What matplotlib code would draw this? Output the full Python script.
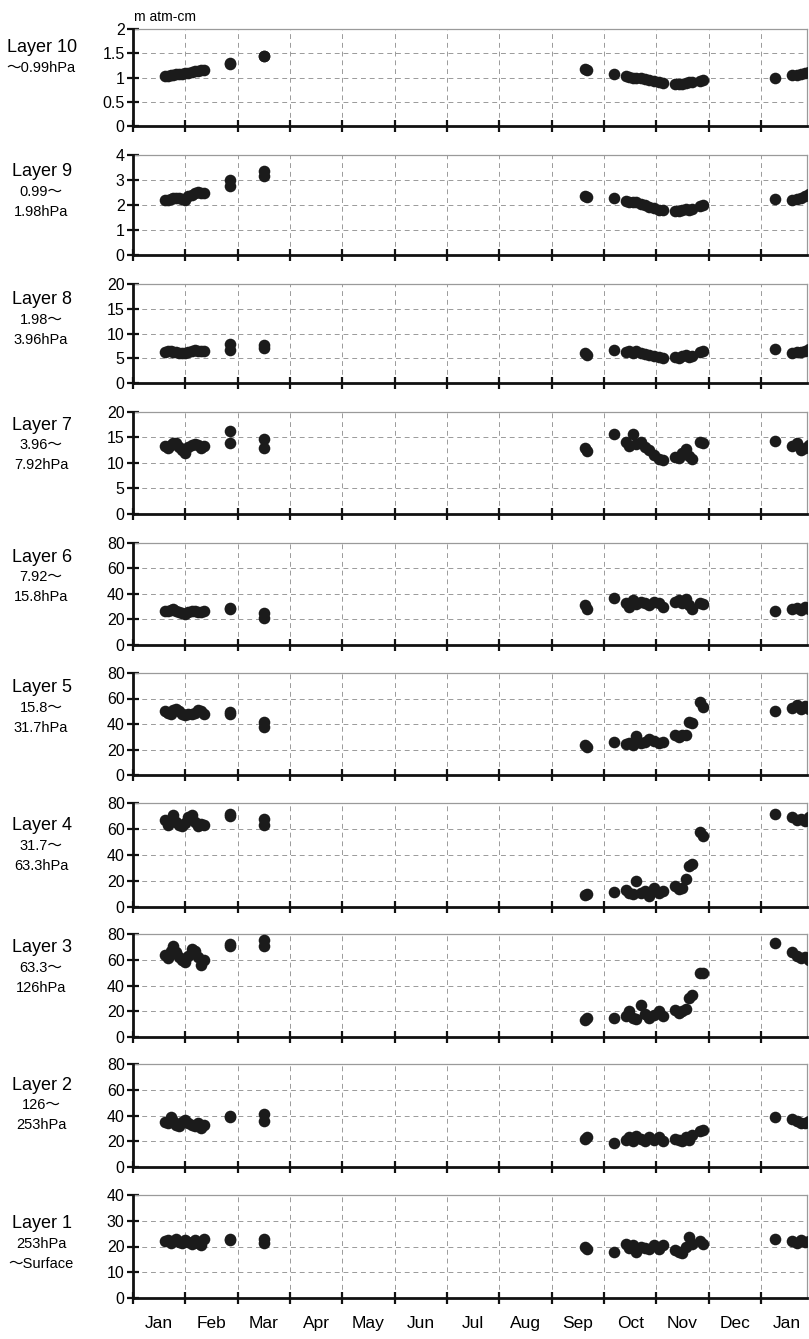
import numpy as np
import matplotlib
matplotlib.use("Agg")
import matplotlib.pyplot as plt
from matplotlib import font_manager

# ---- observation dates (month units, 0 = 1 Jan) ----
dates = [0.62, 0.67, 0.72, 0.77, 0.82, 0.88, 0.94, 1.00, 1.06, 1.12, 1.18, 1.24, 1.30, 1.36,
         1.85, 1.85,
         2.50, 2.50,
         8.64, 8.68, 9.20, 9.42, 9.47, 9.55, 9.62, 9.70, 9.78, 9.87, 9.95, 10.05, 10.12,
         10.36, 10.43, 10.50, 10.57, 10.63, 10.68, 10.84, 10.90,
         12.27, 12.60, 12.68, 12.76, 12.84, 12.92]

# ---- ozone amount per layer (m atm-cm) ----
layer10 = [1.03, 1.04, 1.05, 1.06, 1.07, 1.07, 1.08, 1.09, 1.10, 1.11, 1.13, 1.14, 1.15, 1.16,
           1.29, 1.28, 1.45, 1.44,
           1.17, 1.15, 1.08, 1.03, 1.01, 1.00, 0.99, 0.98, 0.96, 0.95, 0.93, 0.91, 0.89,
           0.86, 0.86, 0.87, 0.88, 0.90, 0.91, 0.93, 0.94,
           1.00, 1.05, 1.06, 1.07, 1.09, 1.12]
layer9 = [2.20, 2.22, 2.25, 2.27, 2.30, 2.28, 2.25, 2.22, 2.35, 2.42, 2.48, 2.52, 2.50, 2.48,
          3.00, 2.75, 3.35, 3.15,
          2.35, 2.32, 2.28, 2.15, 2.13, 2.14, 2.12, 2.05, 2.00, 1.92, 1.88, 1.82, 1.80,
          1.77, 1.78, 1.82, 1.83, 1.80, 1.85, 1.98, 2.02,
          2.24, 2.22, 2.25, 2.30, 2.36, 2.44]
layer8 = [6.2, 6.4, 6.5, 6.3, 6.3, 6.1, 6.0, 6.0, 6.3, 6.5, 6.6, 6.5, 6.4, 6.5,
          7.8, 6.6, 7.6, 7.0,
          6.0, 5.6, 6.6, 6.2, 6.4, 6.0, 6.5, 6.1, 5.9, 5.6, 5.5, 5.2, 5.0,
          5.2, 5.1, 5.4, 5.6, 5.3, 5.5, 6.2, 6.4,
          6.8, 6.1, 6.2, 6.3, 6.5, 6.8]
layer7 = [13.3, 13.0, 13.6, 13.9, 14.0, 13.2, 12.6, 12.0, 13.2, 13.5, 13.8, 13.6, 13.0, 13.3,
          16.3, 14.0, 14.8, 13.0,
          12.9, 12.4, 15.7, 14.2, 13.3, 15.7, 13.7, 14.2, 13.1, 12.5, 11.6, 10.8, 10.6,
          11.2, 11.0, 12.0, 12.7, 11.3, 10.8, 14.2, 13.9,
          14.3, 13.3, 13.9, 12.5, 13.0, 13.5]
layer6 = [27.0, 26.5, 27.5, 28.0, 27.0, 26.0, 25.0, 24.5, 26.0, 26.5, 27.0, 26.0, 25.5, 27.0,
          29.0, 28.0, 25.0, 21.5,
          31.0, 28.5, 37.0, 33.0, 30.0, 35.0, 32.0, 34.0, 33.0, 31.0, 34.0, 33.0, 30.0,
          34.0, 35.0, 33.0, 36.0, 31.0, 28.0, 33.0, 32.0,
          27.0, 28.5, 29.0, 27.5, 30.0, 28.0]
layer5 = [50.0, 49.0, 48.0, 51.0, 52.0, 50.0, 48.0, 47.0, 48.0, 48.0, 49.0, 51.0, 50.0, 48.0,
          49.5, 48.0, 41.5, 38.0,
          23.5, 22.0, 26.0, 24.3, 25.0, 23.5, 30.6, 25.0, 26.0, 28.0, 27.0, 25.0, 26.0,
          31.4, 29.8, 31.0, 31.4, 41.8, 40.8, 57.5, 53.6,
          50.4, 52.8, 55.0, 51.8, 54.0, 52.0]
layer4 = [67.0, 63.0, 66.0, 71.0, 65.6, 63.0, 62.0, 65.0, 69.0, 71.0, 65.6, 62.5, 64.0, 63.0,
          70.0, 71.5, 67.7, 63.0,
          9.2, 10.0, 11.7, 13.0, 11.0, 10.0, 20.2, 10.7, 12.0, 8.5, 14.6, 11.0, 12.0,
          16.2, 13.8, 14.6, 21.5, 31.5, 33.0, 57.9, 55.0,
          71.5, 69.5, 67.0, 68.0, 66.0, 69.0]
layer3 = [64.0, 61.0, 67.0, 71.0, 66.0, 62.0, 60.0, 58.0, 63.0, 68.0, 67.0, 62.0, 56.0, 60.0,
          72.0, 71.0, 75.5, 70.5,
          13.5, 14.5, 15.0, 16.0, 20.0, 15.0, 14.0, 25.0, 18.0, 15.0, 17.0, 20.0, 16.0,
          21.0, 19.0, 20.0, 22.0, 30.0, 33.0, 50.0, 49.5,
          73.0, 66.0, 63.0, 61.0, 62.0, 60.0]
layer2 = [35.0, 34.0, 39.0, 36.0, 33.0, 31.5, 35.0, 36.5, 34.0, 33.0, 31.5, 34.0, 30.0, 33.0,
          39.5, 38.5, 41.0, 36.0,
          22.0, 23.0, 19.0, 21.0, 23.0, 20.0, 24.0, 22.0, 20.0, 23.0, 21.0, 23.0, 20.0,
          22.0, 21.0, 20.0, 23.0, 21.0, 25.0, 28.0, 29.0,
          39.0, 37.0, 36.0, 34.5, 34.0, 36.0]
layer1 = [22.0, 22.5, 21.5, 22.0, 23.0, 21.8, 21.5, 22.5, 21.8, 21.0, 22.5, 21.5, 20.5, 22.8,
          23.0, 22.5, 23.0, 21.5,
          20.0, 19.0, 18.0, 21.0, 19.5, 20.5, 18.0, 20.0, 19.5, 19.0, 20.5, 19.0, 20.5,
          18.5, 18.0, 17.5, 20.0, 23.5, 21.0, 22.0, 21.0,
          22.8, 22.0, 21.5, 22.5, 21.8, 22.0]

months = ["Jan", "Feb", "Mar", "Apr", "May", "Jun", "Jul", "Aug",
          "Sep", "Oct", "Nov", "Dec", "Jan"]

layer_names = [
    ["Layer 10", "～0.99hPa"],
    ["Layer 9", "0.99～", "1.98hPa"],
    ["Layer 8", "1.98～", "3.96hPa"],
    ["Layer 7", "3.96～", "7.92hPa"],
    ["Layer 6", "7.92～", "15.8hPa"],
    ["Layer 5", "15.8～", "31.7hPa"],
    ["Layer 4", "31.7～", "63.3hPa"],
    ["Layer 3", "63.3～", "126hPa"],
    ["Layer 2", "126～", "253hPa"],
    ["Layer 1", "253hPa", "～Surface"],
]
series = [layer10, layer9, layer8, layer7, layer6, layer5, layer4, layer3, layer2, layer1]
y_max = [2, 4, 20, 20, 80, 80, 80, 80, 80, 40]
y_step = [0.5, 1, 5, 5, 20, 20, 20, 20, 20, 10]

# ---- fonts ----
installed = {f.name for f in font_manager.fontManager.ttflist}
base = "Liberation Sans Narrow" if "Liberation Sans Narrow" in installed else "Liberation Sans"
plt.rcParams["font.family"] = [base, "Noto Sans CJK JP", "DejaVu Sans"]

W, H = 809, 1339
fig = plt.figure(figsize=(W / 100, H / 100), dpi=100)

# panel frame positions in pixels (top, bottom)
tops = [29, 155, 284, 412, 543, 673, 803, 934, 1064, 1195]
bottoms = [126, 255, 383, 514, 645, 775, 907, 1037, 1167, 1298]
label_y = [48, 172, 300, 425, 557, 688, 826, 948, 1085, 1224]
left_px, right_px = 133, 807
month_px = 52.33
x_max = (right_px - left_px) / month_px

x = np.array(dates)
for k in range(10):
    ax = fig.add_axes([left_px / W, 1 - bottoms[k] / H,
                       (right_px - left_px) / W, (bottoms[k] - tops[k]) / H])
    y = np.array(series[k], dtype=float)
    ax.scatter(x, y, s=70, color="#1b1b1b", linewidths=0, zorder=3)
    ax.set_xlim(0, x_max)
    ax.set_ylim(0, y_max[k])
    yt = np.arange(0, y_max[k] + 1e-9, y_step[k])
    ax.set_yticks(yt)
    ax.set_yticklabels([f"{v:g}" for v in yt])
    ax.set_xticks(np.arange(0, 13))
    ax.set_xticks(np.arange(0.5, 13, 1), minor=True)
    ax.tick_params(axis="x", which="major", direction="inout", length=9, width=1.6,
                   color="#111111", labelbottom=False)
    ax.tick_params(axis="x", which="minor", length=0, labelsize=12.5, pad=13,
                   labelbottom=(k == 9))
    if k == 9:
        ax.set_xticklabels(months, minor=True)
    ax.tick_params(axis="y", direction="inout", length=8, width=1.6, color="#111111",
                   labelsize=11.5, pad=2)
    ax.grid(True, which="major", linestyle=(0, (5, 4)), color="#9a9a9a", linewidth=0.7)
    for side in ("left", "bottom"):
        ax.spines[side].set_color("#111111")
        ax.spines[side].set_linewidth(2.0)
        ax.spines[side].set_zorder(4)
    for side in ("top", "right"):
        ax.spines[side].set_color("#9a9a9a")
        ax.spines[side].set_linewidth(0.9)

    # layer caption at the left
    names = layer_names[k]
    fig.text(42 / W, 1 - label_y[k] / H, names[0], ha="center", va="center", fontsize=13)
    for j, sub in enumerate(names[1:]):
        fig.text(41 / W, 1 - (label_y[k] + 20 * (j + 1)) / H, sub,
                 ha="center", va="center", fontsize=10.5)

fig.text(134 / W, 1 - 17 / H, "m atm-cm", ha="left", va="center", fontsize=10)

fig.savefig("out.png", dpi=100, facecolor="white")
